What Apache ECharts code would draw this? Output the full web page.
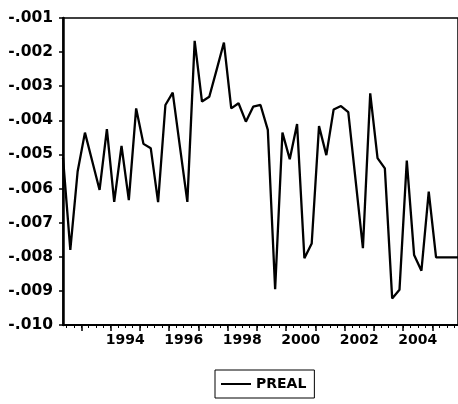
<!DOCTYPE html>
<html>
<head>
<meta charset="utf-8">
<script src="https://cdn.jsdelivr.net/npm/echarts@6/dist/echarts.min.js"></script>
<style>
html,body{margin:0;padding:0;background:#fff;}
#c{width:458px;height:404px;}
</style>
</head>
<body>
<div id="c"></div>
<script>
// Quarterly series PREAL, first observation 1992Q2
const startYear = 1992;
const startQuarter = 2;
const preal = [
  -0.0051, -0.0078, -0.0055, -0.00436, -0.0052, -0.00604, -0.00426, -0.00639, -0.00475, -0.00634,
  -0.00365, -0.00469, -0.00482, -0.0064, -0.00355, -0.00319, -0.0048, -0.00639, -0.00167, -0.00345,
  -0.00331, -0.00252, -0.00172, -0.00365, -0.0035, -0.00404, -0.0036, -0.00355, -0.00428, -0.00895,
  -0.00436, -0.00514, -0.00411, -0.00804, -0.00761, -0.00417, -0.00502, -0.00368, -0.00358, -0.00376,
  -0.00575, -0.00775, -0.00321, -0.00511, -0.00541, -0.00922, -0.00897, -0.00518, -0.00795, -0.00841,
  -0.00609, -0.00802, -0.00802, -0.00802, -0.00802
];
const yearLabels = [1994, 1996, 1998, 2000, 2002, 2004];
const yearTicks = [1993, 1994, 1995, 1996, 1997, 1998, 1999, 2000, 2001, 2002, 2003, 2004, 2005];
const yMin = -0.010, yMax = -0.001, yStep = 0.001;
const seriesName = 'PREAL';

// time coordinate of each quarter (mid-quarter)
const t0 = startYear + (startQuarter - 1) * 0.25 + 0.125;
const points = preal.map((v, i) => [t0 + i * 0.25, v]);
const tMin = points[0][0];
const tMax = points[points.length - 1][0];
const quarterTicks = [];
for (let k = Math.ceil(tMin * 4); k <= Math.floor(tMax * 4); k++) quarterTicks.push(k / 4);

const font = "'DejaVu Sans', 'Liberation Sans', Arial, sans-serif";
const chart = echarts.init(document.getElementById('c'), null, {renderer: 'canvas'});
chart.setOption({
  animation: false,
  backgroundColor: '#fff',
  grid: {left: 63, top: 18, width: 400, height: 307, show: true, borderColor: '#000', borderWidth: 1.5, backgroundColor: 'transparent'},
  legend: {
    left: 215, top: 370,
    data: [seriesName],
    icon: 'rect', itemWidth: 30, itemHeight: 2, itemGap: 6,
    borderColor: '#000', borderWidth: 1, padding: [7, 8, 7, 6],
    textStyle: {fontFamily: font, fontWeight: 'bold', fontSize: 14, color: '#000'}
  },
  xAxis: [{
    type: 'value', min: tMin, max: tMax, position: 'bottom',
    axisLine: {show: true, lineStyle: {color: '#000', width: 2}},
    axisTick: {show: true, inside: false, length: 6, lineStyle: {color: '#000', width: 1.5}, customValues: yearTicks},
    axisLabel: {show: true, customValues: yearLabels.map(y => y + 0.5), formatter: v => String(Math.floor(v)),
      fontFamily: font, fontWeight: 'bold', fontSize: 14, color: '#000', margin: 8},
    splitLine: {show: false}
  }, {
    type: 'value', min: tMin, max: tMax, position: 'bottom', gridIndex: 0,
    axisLine: {show: false},
    axisTick: {show: true, inside: false, length: 3, lineStyle: {color: '#000', width: 1}, customValues: quarterTicks},
    axisLabel: {show: false},
    splitLine: {show: false}
  }],
  yAxis: {
    type: 'value', min: yMin, max: yMax, interval: yStep,
    axisLine: {show: true, lineStyle: {color: '#000', width: 2.5}},
    axisTick: {show: true, inside: false, length: 4, lineStyle: {color: '#000', width: 1.5}},
    axisLabel: {formatter: v => v.toFixed(3).replace('-0.', '-.'), fontFamily: font, fontWeight: 'bold', fontSize: 15.5, color: '#000', margin: 10},
    splitLine: {show: false}
  },
  series: [{
    name: seriesName, type: 'line', data: points, xAxisIndex: 0,
    symbol: 'none', lineStyle: {color: '#000', width: 2.3}, itemStyle: {color: '#000'}
  }]
});
</script>
</body>
</html>
